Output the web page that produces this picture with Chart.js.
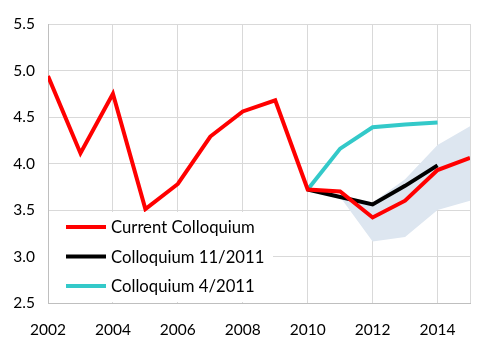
<!DOCTYPE html>
<html>
<head>
<meta charset="utf-8">
<script src="https://cdn.jsdelivr.net/npm/chart.js@4.4.1/dist/chart.umd.min.js"></script>
<style>
html,body{margin:0;padding:0;background:#fff;}
canvas{display:block;}
</style>
</head>
<body>
<canvas id="c" width="500" height="353"></canvas>
<script>
// ---- data ----
const years = [2002, 2003, 2004, 2005, 2006, 2007, 2008, 2009, 2010, 2011, 2012, 2013, 2014, 2015];
const currentColloquium = [4.94, 4.11, 4.75, 3.51, 3.78, 4.29, 4.56, 4.68, 3.72, 3.70, 3.42, 3.60, 3.93, 4.06];
const colloquium1111 = [null, null, null, null, null, null, null, null, 3.72, 3.64, 3.56, 3.76, 3.98, null];
const colloquium0411 = [null, null, null, null, null, null, null, null, 3.72, 4.16, 4.39, 4.42, 4.44, null];
const bandUpper = [null, null, null, null, null, null, null, null, null, 3.64, 3.58, 3.83, 4.20, 4.40];
const bandLower = [null, null, null, null, null, null, null, null, null, 3.64, 3.16, 3.21, 3.50, 3.60];
const xTicks = [2002, 2004, 2006, 2008, 2010, 2012, 2014, 2015];
const yTicks = [2.5, 3.0, 3.5, 4.0, 4.5, 5.0, 5.5];
const seriesNames = ['Current Colloquium', 'Colloquium 11/2011', 'Colloquium 4/2011'];

function pts(arr) {
  return years.map((x, i) => ({ x: x, y: arr[i] })).filter(p => p.y !== null);
}

const FONT = 'Lato, "Open Sans", sans-serif';

const legendPlugin = {
  id: 'insideLegend',
  afterDatasetsDraw(chart) {
    const ctx = chart.ctx;
    const ca = chart.chartArea;
    ctx.save();
    ctx.fillStyle = '#ffffff';
    ctx.fillRect(ca.left + 1, 212, 224, ca.bottom - 212 - 1);
    const rows = [227, 256.5, 286];
    chart.data.datasets.slice(0, 3).forEach((ds, i) => {
      ctx.strokeStyle = ds.borderColor;
      ctx.lineWidth = 4;
      ctx.beginPath();
      ctx.moveTo(66, rows[i]);
      ctx.lineTo(106, rows[i]);
      ctx.stroke();
      ctx.fillStyle = '#000';
      ctx.font = '16.7px ' + FONT;
      ctx.textBaseline = 'middle';
      ctx.textAlign = 'left';
      ctx.fillText(ds.label, 111, rows[i] + 1);
    });
    ctx.restore();
  }
};

new Chart(document.getElementById('c'), {
  type: 'line',
  data: {
    datasets: [
      { label: seriesNames[0], data: pts(currentColloquium), borderColor: '#ff0000', borderWidth: 4, pointRadius: 0, fill: false },
      { label: seriesNames[1], data: pts(colloquium1111), borderColor: '#000000', borderWidth: 4, pointRadius: 0, fill: false },
      { label: seriesNames[2], data: pts(colloquium0411), borderColor: '#33c9c9', borderWidth: 4, pointRadius: 0, fill: false },
      { label: 'upper', data: pts(bandUpper), borderWidth: 0, borderColor: 'rgba(0,0,0,0)', backgroundColor: '#dde6f0', pointRadius: 0, fill: '+1' },
      { label: 'lower', data: pts(bandLower), borderWidth: 0, borderColor: 'rgba(0,0,0,0)', backgroundColor: '#dde6f0', pointRadius: 0, fill: false }
    ]
  },
  options: {
    responsive: false,
    animation: false,
    layout: { padding: { top: 24, right: 30, left: 0, bottom: 0 } },
    plugins: { legend: { display: false }, tooltip: { enabled: false } },
    scales: {
      x: {
        type: 'linear',
        min: 2002,
        max: 2015,
        afterBuildTicks: s => { s.ticks = xTicks.map(v => ({ value: v })); },
        afterFit: s => { s.height = 50; },
        ticks: {
          autoSkip: false,
          maxRotation: 0,
          padding: 18,
          color: '#000',
          font: { family: FONT, size: 15.5 },
          callback: v => (v % 2 === 0 ? String(v) : '')
        },
        grid: { color: '#d9d9d9', drawTicks: false, lineWidth: 1 },
        border: { color: '#bfbfbf', width: 1 }
      },
      y: {
        min: 2.5,
        max: 5.5,
        afterBuildTicks: s => { s.ticks = yTicks.map(v => ({ value: v })); },
        afterFit: s => { s.width = 48; },
        ticks: {
          padding: 13,
          color: '#000',
          font: { family: FONT, size: 15.5 },
          callback: v => Number(v).toFixed(1)
        },
        grid: { color: '#d9d9d9', drawTicks: false, lineWidth: 1 },
        border: { color: '#bfbfbf', width: 1 }
      }
    }
  },
  plugins: [legendPlugin]
});
</script>
</body>
</html>
